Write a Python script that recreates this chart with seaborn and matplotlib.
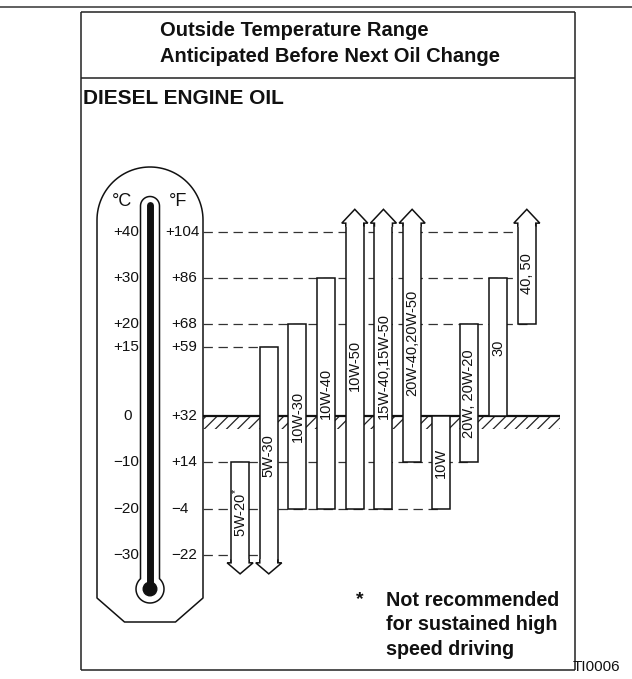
import numpy as np
import matplotlib
matplotlib.use("Agg")
import matplotlib.pyplot as plt
import seaborn as sns
from matplotlib.patches import Polygon, Rectangle, Circle
from matplotlib.transforms import blended_transform_factory

# ---------------- data ----------------
grades = ["5W-20$^{*}$", "5W-30", "10W-30", "10W-40", "10W-50", "15W-40,15W-50",
          "20W-40,20W-50", "10W", "20W, 20W-20", "30", "40, 50"]
# lowest / highest outside temperature (deg C); None = open ended (arrow)
low_c = [None, None, -20, -20, -20, -20, -10, -20, -10, 0, 20]
high_c = [-10, 15, 20, 30, None, None, None, 0, 20, 30, None]

celsius_ticks = [40, 30, 20, 15, 0, -10, -20, -30]
celsius_labels = ["+40", "+30", "+20", "+15", "0", "\u221210", "\u221220", "\u221230"]
fahrenheit_labels = ["+104", "+86", "+68", "+59", "+32", "+14", "\u22124", "\u221222"]
guide_reach = [10, 10, 10, 1, None, 8, 7, 1]   # bar index where each guide ends

title_lines = ["Outside Temperature Range", "Anticipated Before Next Oil Change"]
subtitle = "DIESEL ENGINE OIL"
note_lines = ["Not recommended", "for sustained high", "speed driving"]
figure_code = "TI0006"

# ---------------- layout constants ----------------
W, H = 632, 679
UP_BASE, UP_TIP = 42.0, 45.0
DOWN_BASE, DOWN_TIP = -31.8, -34.2
BAR_W = 0.628
HEAD_HW = 0.453
X0_PX, X_STEP = 383.45, 28.67      # pixel of category 5, pixels per category
Y0_PX, Y_STEP = 416.45, 4.6026     # pixel of 0 C, pixels per degree
INK = "#111111"


def px_to_x(px):
    return 5 + (px - X0_PX) / X_STEP


sns.set_theme(style="white")
plt.rcParams["font.family"] = ["Liberation Sans", "DejaVu Sans"]
plt.rcParams["mathtext.fontset"] = "custom"
plt.rcParams["mathtext.rm"] = "Liberation Sans"
plt.rcParams["mathtext.it"] = "Liberation Sans"
plt.rcParams["hatch.linewidth"] = 0.9

fig = plt.figure(figsize=(W / 100, H / 100), dpi=100)
fig.patch.set_facecolor("white")

# decoration axes in pixel coordinates (y downwards)
deco = fig.add_axes([0, 0, 1, 1])
deco.set_xlim(0, W)
deco.set_ylim(H, 0)
deco.axis("off")
deco.patch.set_alpha(0)

# chart axes: x = grade index, y = temperature (C)
ax = fig.add_axes([0, 0, 1, 1])
ax.patch.set_alpha(0)

bottoms = np.array([DOWN_BASE if v is None else v for v in low_c], dtype=float)
tops = np.array([UP_BASE if v is None else v for v in high_c], dtype=float)
heights = tops - bottoms

sns.barplot(x=grades, y=heights, bottom=bottoms, order=grades, color="white",
            edgecolor=INK, linewidth=1.1, width=BAR_W, errorbar=None,
            saturation=1, ax=ax, zorder=3)

ax.set_xlim(px_to_x(0), px_to_x(W))
ax.set_ylim((Y0_PX - H) / Y_STEP, Y0_PX / Y_STEP)
ax.axis("off")

# arrow heads for open ended ranges
for i, (lo, hi) in enumerate(zip(low_c, high_c)):
    if hi is None:
        pts = [(i - BAR_W / 2, UP_BASE - 0.8), (i - BAR_W / 2, UP_BASE),
               (i - HEAD_HW, UP_BASE), (i, UP_TIP), (i + HEAD_HW, UP_BASE),
               (i + BAR_W / 2, UP_BASE), (i + BAR_W / 2, UP_BASE - 0.8)]
        ax.add_patch(Polygon(pts, closed=False, facecolor="white",
                             edgecolor=INK, lw=1.1, zorder=4, joinstyle="miter"))
    if lo is None:
        pts = [(i - BAR_W / 2, DOWN_BASE + 0.8), (i - BAR_W / 2, DOWN_BASE),
               (i - HEAD_HW, DOWN_BASE), (i, DOWN_TIP), (i + HEAD_HW, DOWN_BASE),
               (i + BAR_W / 2, DOWN_BASE), (i + BAR_W / 2, DOWN_BASE + 0.8)]
        ax.add_patch(Polygon(pts, closed=False, facecolor="white",
                             edgecolor=INK, lw=1.1, zorder=4, joinstyle="miter"))
    mid = (bottoms[i] + tops[i]) / 2
    ax.text(i, mid, grades[i], rotation=90, ha="center", va="center",
            fontsize=10.5, color=INK, zorder=6)

# guide lines
x_start = px_to_x(203)
x_ground_end = px_to_x(560)
for t, reach in zip(celsius_ticks, guide_reach):
    if reach is None:
        continue
    ax.plot([x_start, reach], [t, t], color="#333333", lw=0.9,
            dashes=(7.5, 4.5), zorder=1)

# frozen ground line with hatching
ax.add_patch(Rectangle((x_start, -2.8), x_ground_end - x_start, 2.8,
                       hatch="///", fill=False, edgecolor="#222222", lw=0, zorder=1))
ax.plot([x_start, x_ground_end], [0, 0], color=INK, lw=1.6,
        solid_capstyle="butt", zorder=2)

# ---------------- thermometer ----------------
cx = 150.0
r_out = 53.0
top_c = 220.0
a = np.linspace(np.pi, 2 * np.pi, 60)
outline = [(97, 598), (97, top_c)]
outline += list(zip(cx + r_out * np.cos(a), top_c + r_out * np.sin(a)))
outline += [(203, top_c), (203, 598), (175.5, 622), (124.5, 622), (97, 598)]
deco.add_patch(Polygon(outline, closed=True, fill=False, edgecolor=INK,
                       lw=1.1, joinstyle="round"))

tube_hw = 9.5
tube_top = 206.0
bulb_c, bulb_r = 589.0, 14.0
dy = np.sqrt(bulb_r ** 2 - tube_hw ** 2)
a1 = np.linspace(np.pi, 2 * np.pi, 30)
phi = np.arctan2(-dy, tube_hw)
a2 = np.linspace(phi, np.pi - phi, 60)
tube = [(cx - tube_hw, bulb_c - dy)]
tube += list(zip(cx + tube_hw * np.cos(a1), tube_top + tube_hw * np.sin(a1)))
tube += list(zip(cx + bulb_r * np.cos(a2), bulb_c + bulb_r * np.sin(a2)))
deco.add_patch(Polygon(tube, closed=True, fill=False, edgecolor=INK, lw=1.1))
deco.plot([cx, cx], [205, 589], color=INK, lw=5.0, solid_capstyle="round")
deco.add_patch(Circle((cx, bulb_c), 6.8, color=INK))

deco.text(122, 206, "\u00b0C", ha="center", va="baseline", fontsize=13, color=INK)
deco.text(178, 206, "\u00b0F", ha="center", va="baseline", fontsize=13, color=INK)

tick_tr = blended_transform_factory(deco.transData, ax.transData)
for t, cl, fl in zip(celsius_ticks, celsius_labels, fahrenheit_labels):
    ax.text(139 if cl != "0" else 132, t, cl, transform=tick_tr, ha="right",
            va="center", fontsize=11, color=INK)
    ax.text(165 if len(fl) > 3 else 171, t, fl, transform=tick_tr, ha="left",
            va="center", fontsize=11, color=INK)

# ---------------- frame and texts ----------------
line_kw = dict(color="#222222", lw=1.1, solid_capstyle="butt")
deco.plot([0, W], [7, 7], color="#444444", lw=1.2)
deco.plot([80.5, 575], [12, 12], **line_kw)
deco.plot([80.5, 575], [78, 78], **line_kw)
deco.plot([80.5, 80.5], [12, 670], **line_kw)
deco.plot([575, 575], [12, 670], **line_kw)
deco.plot([80.5, 575], [670, 670], **line_kw)

deco.text(160, 36, title_lines[0], ha="left", va="baseline", fontsize=14.5,
          fontweight="bold", color=INK)
deco.text(160, 62, title_lines[1], ha="left", va="baseline", fontsize=14.5,
          fontweight="bold", color=INK)
deco.text(83, 104, subtitle, ha="left", va="baseline", fontsize=15,
          fontweight="bold", color=INK)

deco.text(360, 604, "*", ha="center", va="baseline", fontsize=14,
          fontweight="bold", color=INK)
for k, line in enumerate(note_lines):
    deco.text(386, 606 + 24.5 * k, line, ha="left", va="baseline", fontsize=14.2,
              fontweight="bold", color=INK)
deco.text(573, 667, figure_code, ha="left", va="center", fontsize=11, color=INK)

fig.savefig("out.png", dpi=100, facecolor="white")
